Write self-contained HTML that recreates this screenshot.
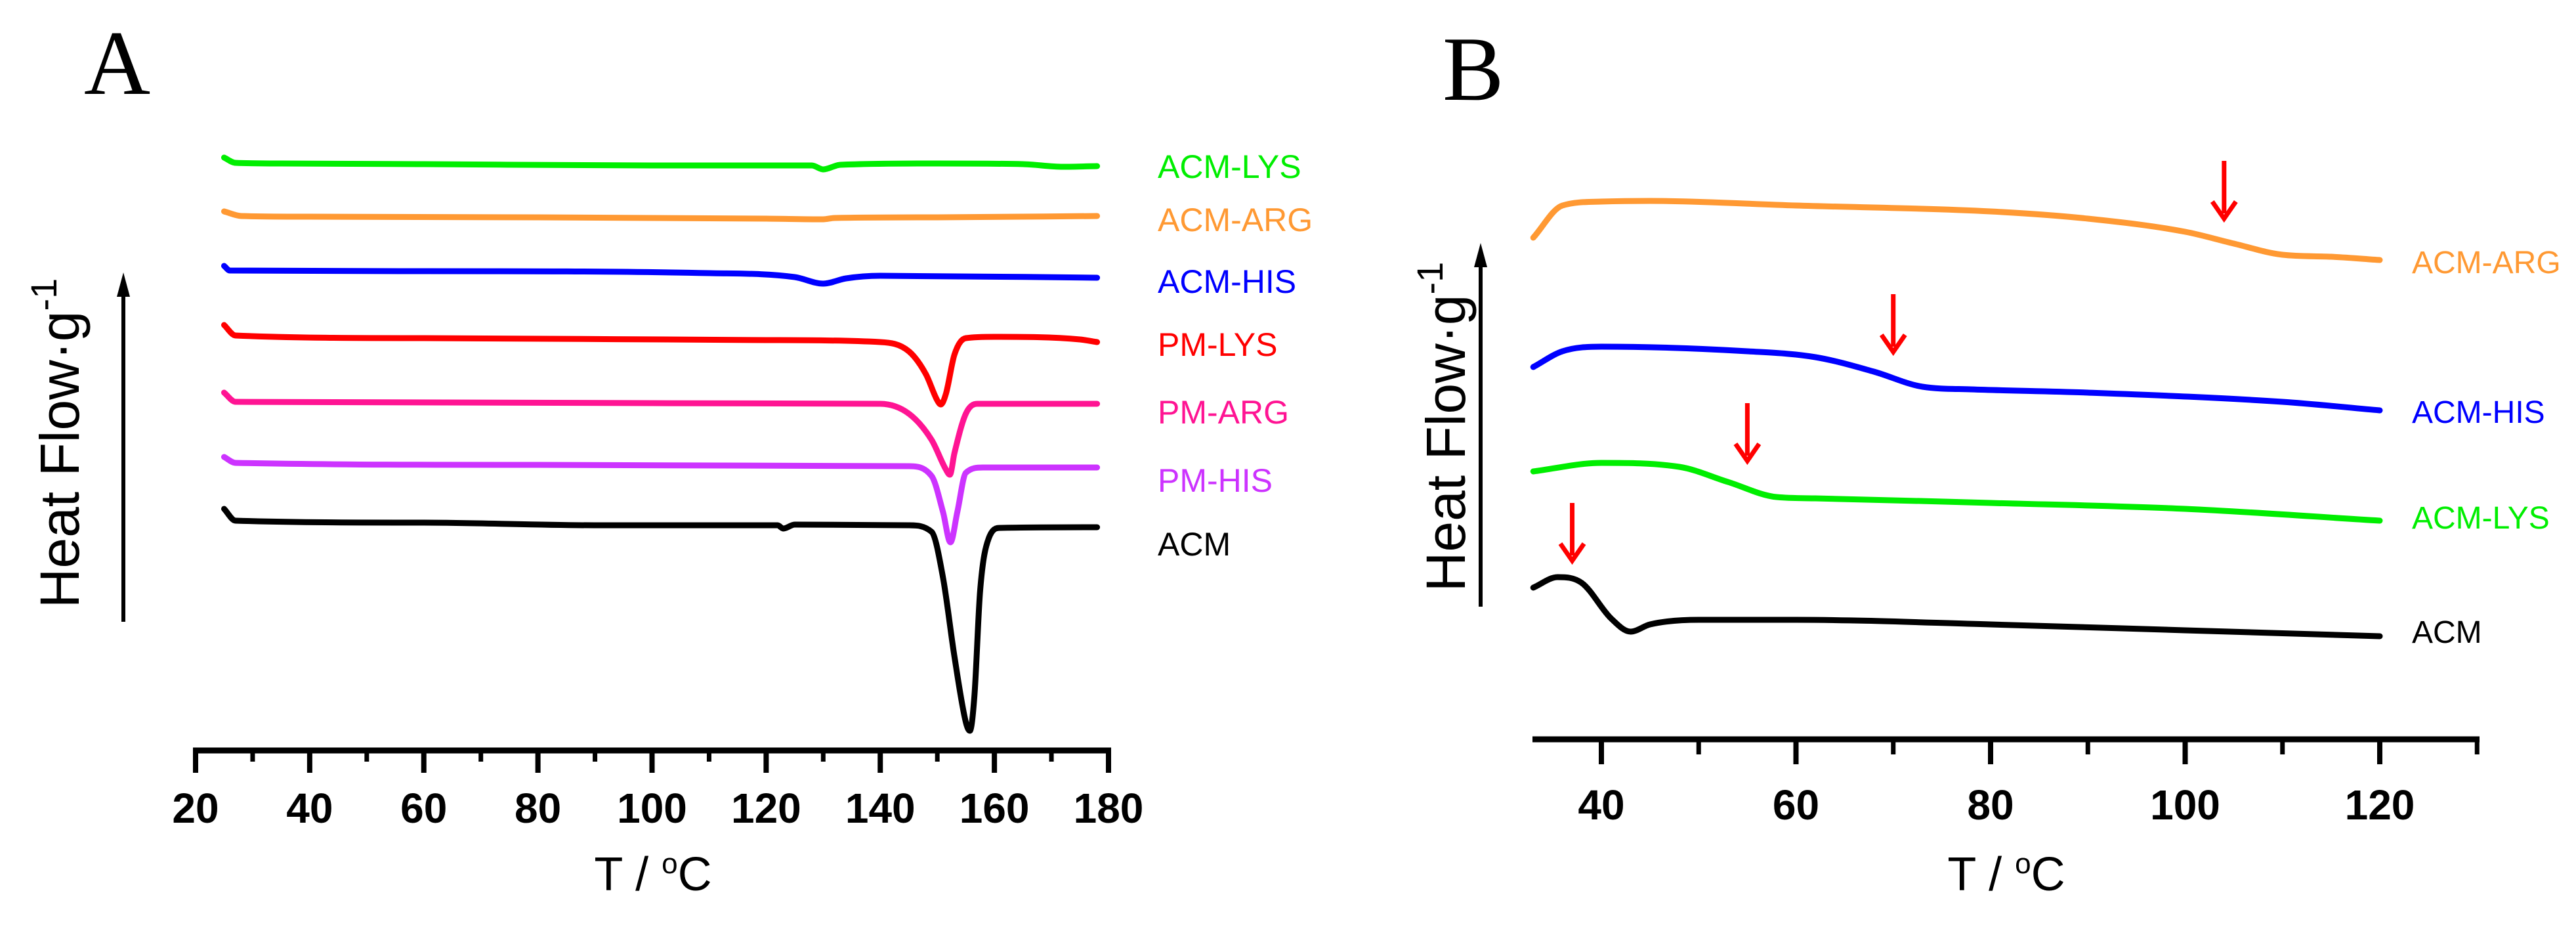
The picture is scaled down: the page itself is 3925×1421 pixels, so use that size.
<!DOCTYPE html>
<html><head><meta charset="utf-8"><style>
html,body{margin:0;padding:0;background:#fff;}
svg{display:block;font-family:"Liberation Sans",Arial,sans-serif;}
</style></head><body>
<svg id="fig" width="3925" height="1421" viewBox="0 0 3925 1421" xmlns="http://www.w3.org/2000/svg">
<g id="panelA">
<text x="128" y="143" font-family="Liberation Serif,serif" font-size="140">A</text>
<line x1="188" y1="947" x2="188" y2="445" stroke="#000" stroke-width="6"/>
<polygon points="188,415 178,452 198,452" fill="#000"/>
<text transform="translate(120,675) rotate(-90)" text-anchor="middle" font-size="84">Heat Flow·g<tspan dy="-34" font-size="56">-1</tspan></text>
<text x="995" y="1356" text-anchor="middle" font-size="72">T / <tspan dy="-26" font-size="44">o</tspan><tspan dy="26">C</tspan></text>
<g id="axA"></g>
<g id="curvesA"></g>
</g>
<g id="panelB">
<text x="2198" y="152" font-family="Liberation Serif,serif" font-size="140">B</text>
<line x1="2256" y1="924" x2="2256" y2="400" stroke="#000" stroke-width="6"/>
<polygon points="2256,370 2246,407 2266,407" fill="#000"/>
<text transform="translate(2232,650) rotate(-90)" text-anchor="middle" font-size="84">Heat Flow·g<tspan dy="-34" font-size="56">-1</tspan></text>
<text x="3057" y="1356" text-anchor="middle" font-size="72">T / <tspan dy="-26" font-size="44">o</tspan><tspan dy="26">C</tspan></text>
<g id="axB"></g>
<g id="curvesB"></g>
</g>
</svg>
<script>
// ---------- Panel A data ----------
const ticksA = [20,40,60,80,100,120,140,160,180];
const minorA = [30,50,70,90,110,130,150,170];
const namesA = ["ACM-LYS","ACM-ARG","ACM-HIS","PM-LYS","PM-ARG","PM-HIS","ACM"];
const colorsA = ["#00ee00","#ff9933","#0000ff","#ff0000","#ff1493","#cc33ff","#000000"];
const labelSignalA = [946,865,771,675,572,468,371];
const acmLys = [[25,960],[27,952],[35,951],[60,950],[100,948],[128,948],[130,942],[133,949],[150,951],[165,950],[172,946],[178,947]];
const acmArg = [[25,878],[28,871],[40,870],[80,869],[120,867],[130,866],[132,868],[150,869],[178,871]];
const acmHis = [[25,795],[26,788],[60,787],[110,784],[125,778],[130,768],[134,776],[140,780],[178,777]];
const pmLys = [[25,705],[27,689],[60,685],[120,682],[140,679],[145,665],[148,630],[150,590],[150.6,584],[151.5,600],[153,660],[155,685],[160,687],[175,683],[178,679]];
const pmArg = [[25,602],[27,588],[100,586],[140,585],[145,570],[149,530],[151.5,485],[152.2,477],[153,510],[155,570],[157,585],[178,585]];
const pmHis = [[25,504],[27,495],[80,492],[145,490],[149,475],[151,420],[152.3,374],[153.5,420],[155,480],[158,488],[178,488]];
const acm = [[25,425],[27,407],[60,404],[90,400],[122,400],[123,395],[125,401],[145,400],[149,390],[151,320],[153,200],[155,100],[155.7,87],[156.5,140],[157.5,300],[159,380],[161,396],[178,397]];
const seriesA = [acmLys,acmArg,acmHis,pmLys,pmArg,pmHis,acm];

// ---------- Panel B data ----------
const ticksB = [40,60,80,100,120];
const minorB = [50,70,90,110,130];
const namesB = ["ACM-ARG","ACM-HIS","ACM-LYS","ACM"];
const colorsB = ["#ff9933","#0000ff","#00ee00","#000000"];
const labelSignalB = [801,573,412,238];
const bArg = [[33,838],[36,887],[40,893],[45,894],[60,887],[80,878],[90,867],[100,847],[105,829],[110,812],[115,809],[120,804]];
const bHis = [[33,641],[36,665],[40,672],[55,665],[62,656],[68,634],[73,611],[78,607],[90,602],[110,588],[120,575]];
const bLys = [[33,482],[40,495],[48,489],[53,466],[58,443],[62,441],[80,434],[100,425],[120,407]];
const bAcm = [[33,305],[35.5,321],[38,312],[41,258],[43,238],[45,249],[50,256],[60,256],[80,249],[100,240],[120,231]];
const seriesB = [bArg,bHis,bLys,bAcm];
const arrowTemps = [104,70,55,37];
const arrowTopSignal = [955,752,586,434];

// ---------- scales ----------
const xA = t => 298 + (t-20)*(1689-298)/160;
const xB = t => 2440 + (t-40)*(3626-2440)/80;
const yS = v => 1200 - v;
const NS = "http://www.w3.org/2000/svg";
function mk(tag, attrs, parent){ const e=document.createElementNS(NS,tag); for(const k in attrs) e.setAttribute(k,attrs[k]); parent.appendChild(e); return e; }
// monotone cubic interpolation (Fritsch-Carlson), no overshoot
function pathD(pts, xf){
  const X = pts.map(d=>xf(d[0])), Y = pts.map(d=>yS(d[1])), n = X.length;
  const dl = [], m = new Array(n);
  for(let i=0;i<n-1;i++) dl.push((Y[i+1]-Y[i])/(X[i+1]-X[i]));
  m[0]=dl[0]; m[n-1]=dl[n-2];
  for(let i=1;i<n-1;i++){ m[i] = (dl[i-1]*dl[i]<=0) ? 0 : (dl[i-1]+dl[i])/2; }
  for(let i=0;i<n-1;i++){
    if(dl[i]===0){ m[i]=0; m[i+1]=0; continue; }
    const a=m[i]/dl[i], b=m[i+1]/dl[i], s=a*a+b*b;
    if(s>9){ const t=3/Math.sqrt(s); m[i]=t*a*dl[i]; m[i+1]=t*b*dl[i]; }
  }
  let d="M"+X[0]+","+Y[0];
  for(let i=0;i<n-1;i++){
    const h=(X[i+1]-X[i])/3;
    d+=" C"+(X[i]+h)+","+(Y[i]+m[i]*h)+" "+(X[i+1]-h)+","+(Y[i+1]-m[i+1]*h)+" "+X[i+1]+","+Y[i+1];
  }
  return d;
}
// ---------- Panel A axis ----------
const axA = document.getElementById("axA");
const la = mk("line",{x1:xA(20)-4,x2:xA(180)+4,y1:1143,y2:1143,stroke:"#000","stroke-width":9},axA);


ticksA.forEach(t=>{
  const l = mk("line",{x1:xA(t),x2:xA(t),y1:1139,y2:1177,stroke:"#000","stroke-width":8},axA);
  
  
  const tx = mk("text",{x:xA(t),y:1253,"text-anchor":"middle","font-size":64,"font-weight":"bold"},axA);
  tx.textContent = t;
  
  
});
minorA.forEach(t=>{
  const l = mk("line",{x1:xA(t),x2:xA(t),y1:1139,y2:1160,stroke:"#000","stroke-width":7},axA);
  
  
});
const cA = document.getElementById("curvesA");
seriesA.forEach((s,i)=>{
  const p = mk("path",{d:pathD(s,xA),fill:"none",stroke:colorsA[i],"stroke-width":9,"stroke-linejoin":"round","stroke-linecap":"round"},cA);
  
  
  const tx = mk("text",{x:1764,y:yS(labelSignalA[i])+17,"font-size":50,fill:colorsA[i]},cA);
  tx.textContent = namesA[i];
  
  
});
// ---------- Panel B axis ----------
const axB = document.getElementById("axB");
const lb = mk("line",{x1:2335,x2:3778,y1:1126,y2:1126,stroke:"#000","stroke-width":9},axB);


ticksB.forEach(t=>{
  const l = mk("line",{x1:xB(t),x2:xB(t),y1:1122,y2:1164,stroke:"#000","stroke-width":8},axB);
  
  
  const tx = mk("text",{x:xB(t),y:1248,"text-anchor":"middle","font-size":64,"font-weight":"bold"},axB);
  tx.textContent = t;
  
  
});
minorB.forEach(t=>{
  const l = mk("line",{x1:xB(t),x2:xB(t),y1:1122,y2:1149,stroke:"#000","stroke-width":7},axB);
  
  
});
const cB = document.getElementById("curvesB");
seriesB.forEach((s,i)=>{
  const p = mk("path",{d:pathD(s,xB),fill:"none",stroke:colorsB[i],"stroke-width":9,"stroke-linejoin":"round","stroke-linecap":"round"},cB);
  
  
  const tx = mk("text",{x:3675,y:yS(labelSignalB[i])+17,"font-size":48,fill:colorsB[i]},cB);
  tx.textContent = namesB[i];
  
  
  const ax = xB(arrowTemps[i]), ay = yS(arrowTopSignal[i]);
  const al = mk("line",{x1:ax,x2:ax,y1:ay,y2:ay+80,stroke:"#ff0000","stroke-width":7},cB);
  
  
  const ah = mk("polyline",{points:(ax-18)+","+(ay+62)+" "+ax+","+(ay+88)+" "+(ax+18)+","+(ay+62),fill:"none",stroke:"#ff0000","stroke-width":7},cB);
  
  
});
</script>
</body></html>
